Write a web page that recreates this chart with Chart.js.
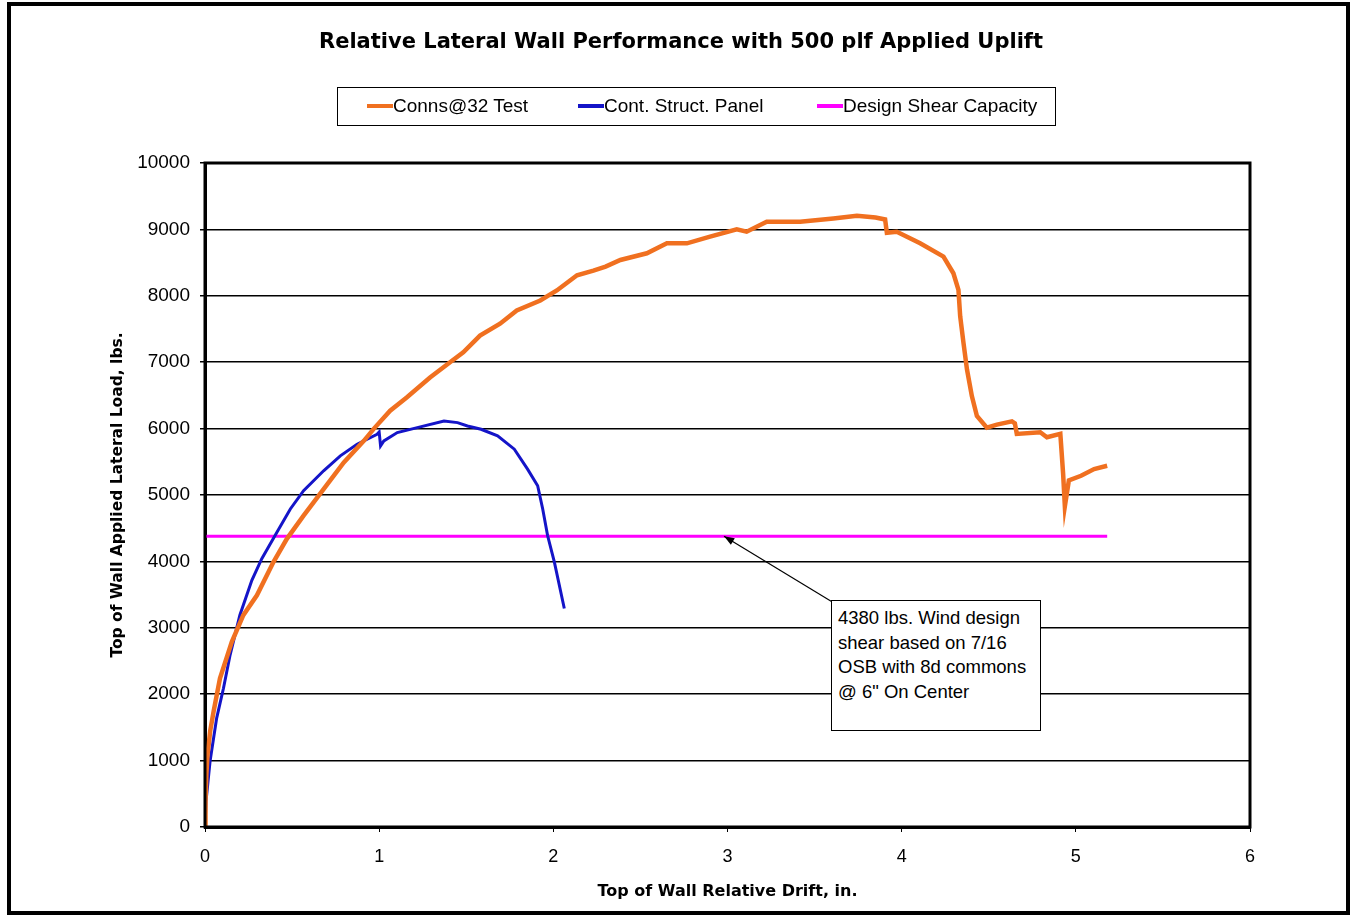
<!DOCTYPE html>
<html>
<head>
<meta charset="utf-8">
<script src="https://cdn.jsdelivr.net/npm/chart.js@4/dist/chart.umd.min.js"></script>
<style>
  body { margin:0; background:#fff; font-family:"Liberation Sans", Arial, sans-serif; }
  #wrap { position:relative; width:1354px; height:917px; }
  #frame { position:absolute; left:7px; top:2px; width:1343px; height:913px; box-sizing:border-box; border:4px solid #000; pointer-events:none; }
  #title { position:absolute; left:0; width:1362px; top:29px; text-align:center; font-family:"DejaVu Sans", sans-serif; font-weight:bold; font-size:21px; }
  #legend { position:absolute; left:337px; top:87px; width:719px; height:39px; box-sizing:border-box; border:1.5px solid #000; font-size:19px; }
  .item { position:absolute; top:7px; white-space:nowrap; }
  .swatch { display:inline-block; width:26px; height:4px; vertical-align:middle; position:relative; top:-1px; }
  #note { position:absolute; left:831px; top:600px; width:210px; height:131px; box-sizing:border-box; border:1px solid #000; padding:5px 0 0 6px; font-size:18.5px; line-height:24.5px; background:#fff; white-space:nowrap; }
</style>
</head>
<body>
<div id="wrap">
  <canvas id="chart" width="1354" height="917"></canvas>
  <div id="frame"></div>
  <div id="title">Relative Lateral Wall Performance with 500 plf Applied Uplift</div>
  <div id="legend">
    <div class="item" style="left:29px"><span class="swatch" style="background:#F07020"></span>Conns@32 Test</div>
    <div class="item" style="left:240px"><span class="swatch" style="background:#1414C8"></span>Cont. Struct. Panel</div>
    <div class="item" style="left:479px"><span class="swatch" style="background:#FF00FF"></span>Design Shear Capacity</div>
  </div>
  <div id="note">4380 lbs. Wind design<br>shear based on 7/16<br>OSB with 8d commons<br>@ 6" On Center</div>
</div>
<script>
// Conns@32 Test (orange)
var connsX = [0, 0.003, 0.008, 0.015, 0.03, 0.05, 0.086, 0.154, 0.22, 0.298, 0.393, 0.47, 0.566, 0.681, 0.797, 0.912, 0.97, 1.063, 1.158, 1.292, 1.407, 1.483, 1.579, 1.694, 1.79, 1.925, 2.02, 2.136, 2.23, 2.30, 2.385, 2.537, 2.652, 2.767, 2.9, 3.053, 3.11, 3.225, 3.417, 3.608, 3.743, 3.85, 3.905, 3.915, 3.972, 4.106, 4.24, 4.297, 4.326, 4.336, 4.355, 4.375, 4.403, 4.432, 4.489, 4.547, 4.633, 4.65, 4.661, 4.796, 4.834, 4.911, 4.927, 4.937, 4.96, 5.03, 5.105, 5.18];
var connsY = [0, 400, 800, 1100, 1450, 1750, 2240, 2790, 3190, 3490, 3990, 4340, 4690, 5090, 5490, 5815, 6000, 6270, 6470, 6770, 7000, 7150, 7400, 7580, 7780, 7930, 8080, 8310, 8380, 8440, 8540, 8640, 8790, 8790, 8890, 9000, 8965, 9115, 9115, 9165, 9205, 9180, 9150, 8950, 8965, 8790, 8590, 8340, 8090, 7690, 7290, 6890, 6490, 6190, 6015, 6060, 6110, 6080, 5920, 5945, 5870, 5920, 5320, 4830, 5220, 5290, 5390, 5440];

// Cont. Struct. Panel (blue)
var panelX = [0, 0.006, 0.029, 0.067, 0.106, 0.144, 0.2, 0.269, 0.326, 0.413, 0.49, 0.566, 0.681, 0.777, 0.873, 0.988, 1.0, 1.008, 1.027, 1.104, 1.219, 1.372, 1.45, 1.507, 1.585, 1.68, 1.776, 1.852, 1.91, 1.939, 1.967, 2.006, 2.063];
var panelY = [0, 390, 990, 1640, 2090, 2590, 3190, 3715, 4040, 4440, 4790, 5065, 5365, 5590, 5765, 5915, 5950, 5740, 5815, 5940, 6015, 6115, 6090, 6040, 5990, 5890, 5690, 5390, 5140, 4790, 4390, 3990, 3290];

// Design Shear Capacity (magenta)
var designX = [0, 5.18];
var designY = [4380, 4380];

var noteTip = { x: 2.98, y: 4380 };
var fontFamily = '"Liberation Sans", Arial, sans-serif';
var boldFamily = '"DejaVu Sans", sans-serif';

function pts(xs, ys) {
    return xs.map(function(x, i) { return { x: x, y: ys[i] }; });
}

var extras = {
    id: 'extras',
    afterDraw: function(chart) {
        var ctx = chart.ctx, a = chart.chartArea;
        ctx.save();
        ctx.strokeStyle = '#000';
        ctx.lineWidth = 3;
        ctx.strokeRect(a.left, a.top, a.right - a.left, a.bottom - a.top);
        // arrow from note box to the design line
        var tx = chart.scales.x.getPixelForValue(noteTip.x);
        var ty = chart.scales.y.getPixelForValue(noteTip.y);
        var sx = 834, sy = 603;
        var ang = Math.atan2(ty - sy, tx - sx);
        ctx.lineWidth = 1.2;
        ctx.beginPath();
        ctx.moveTo(sx, sy);
        ctx.lineTo(tx, ty);
        ctx.stroke();
        ctx.fillStyle = '#000';
        ctx.beginPath();
        ctx.moveTo(tx, ty);
        ctx.lineTo(tx - 11 * Math.cos(ang - 0.35), ty - 11 * Math.sin(ang - 0.35));
        ctx.lineTo(tx - 11 * Math.cos(ang + 0.35), ty - 11 * Math.sin(ang + 0.35));
        ctx.closePath();
        ctx.fill();
        ctx.restore();
    }
};

var ctx = document.getElementById('chart').getContext('2d');
var chart = new Chart(ctx, {
    type: 'scatter',
    data: {
        datasets: [{
            label: 'Conns@32 Test',
            data: pts(connsX, connsY),
            showLine: true,
            borderColor: '#F07020',
            borderWidth: 4.5,
            pointRadius: 0
        }, {
            label: 'Cont. Struct. Panel',
            data: pts(panelX, panelY),
            showLine: true,
            borderColor: '#1414C8',
            borderWidth: 3,
            pointRadius: 0
        }, {
            label: 'Design Shear Capacity',
            data: pts(designX, designY),
            showLine: true,
            borderColor: '#FF00FF',
            borderWidth: 3,
            pointRadius: 0
        }]
    },
    options: {
        responsive: false,
        animation: false,
        layout: { padding: { left: 100, top: 163, right: 104, bottom: 0 } },
        plugins: {
            legend: { display: false },
            title: { display: false },
            tooltip: { enabled: false }
        },
        scales: {
            x: {
                type: 'linear',
                min: 0,
                max: 6,
                ticks: { stepSize: 1, padding: 14, color: '#000', font: { family: fontFamily, size: 18 } },
                grid: { drawOnChartArea: false, color: '#000', tickLength: 5, lineWidth: 1 },
                border: { color: '#000', width: 3 },
                title: {
                    display: true,
                    text: 'Top of Wall Relative Drift, in.',
                    color: '#000',
                    font: { family: boldFamily, size: 16, weight: 'bold' },
                    padding: { top: 0, bottom: 16 }
                },
                afterFit: function(s) { s.height = 90; }
            },
            y: {
                min: 0,
                max: 10000,
                ticks: {
                    stepSize: 1000, padding: 10, color: '#000',
                    font: { family: fontFamily, size: 19 },
                    callback: function(v) { return String(v); }
                },
                grid: { color: '#000', lineWidth: 1.5, tickLength: 5 },
                border: { color: '#000', width: 3 },
                title: {
                    display: true,
                    text: 'Top of Wall Applied Lateral Load, lbs.',
                    color: '#000',
                    font: { family: boldFamily, size: 15.5, weight: 'bold' },
                    padding: { top: 9, bottom: 0 }
                },
                afterFit: function(s) { s.width = 105; }
            }
        }
    },
    plugins: [extras]
});
</script>
</body>
</html>
